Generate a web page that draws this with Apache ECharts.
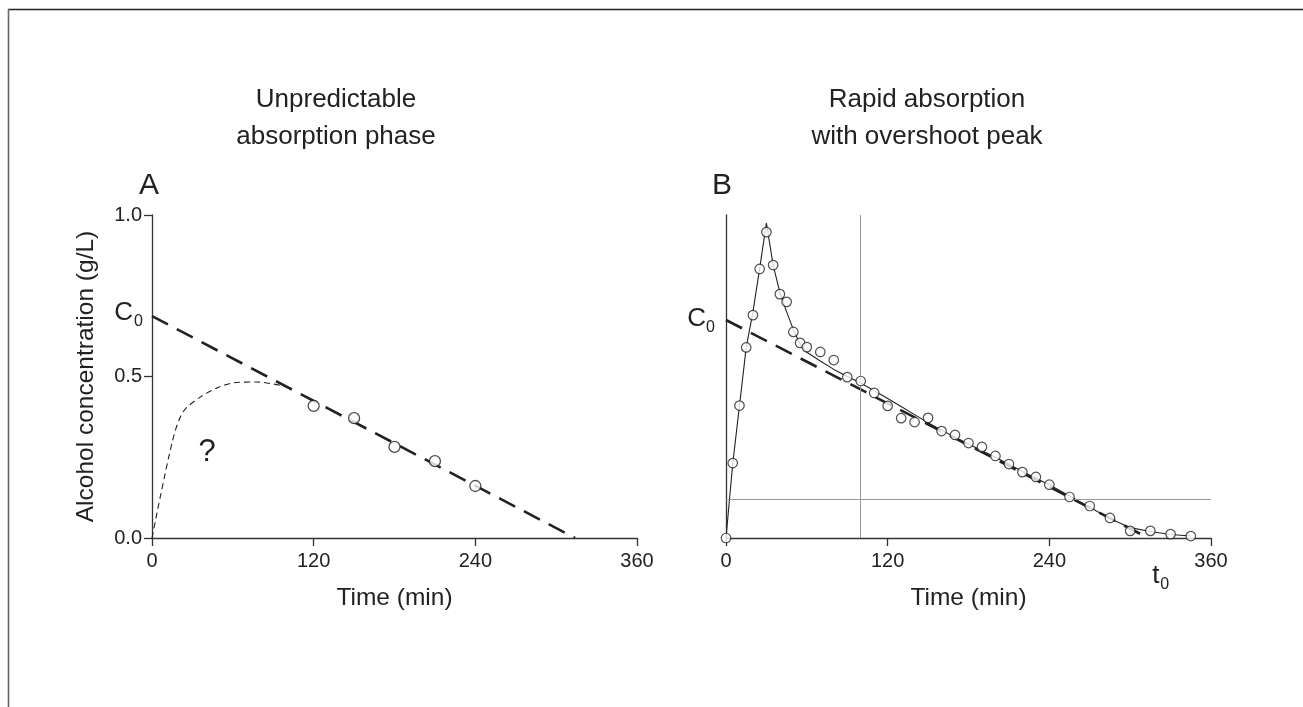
<!DOCTYPE html>
<html>
<head>
<meta charset="utf-8">
<script src="https://cdn.jsdelivr.net/npm/echarts@6/dist/echarts.min.js"></script>
<style>
html,body{margin:0;padding:0;background:#fff;}
#chart{width:1303px;height:707px;}
</style>
</head>
<body>
<div id="chart"></div>
<script>
// ---- data ----
const xTicks = [0, 120, 240, 360];
const yTicks = [0.0, 0.5, 1.0];

// Panel A
const aObsTime = [120, 150, 180, 210, 240];
const aObsConc = [0.409, 0.371, 0.282, 0.238, 0.161];
const aFitTime = [0, 314];
const aFitConc = [0.687, 0];
const aGuessTime = [0, 15, 23, 36, 48, 60, 78, 100];
const aGuessConc = [0, 0.297, 0.39, 0.437, 0.464, 0.48, 0.483, 0.468];

// Panel B
const bObsTime = [0,5,10,15,20,25,30,35,40,45,50,55,60,70,80,90,100,110,120,130,140,150,160,170,180,190,200,210,220,230,240,255,270,285,300,315,330,345];
const bObsConc = [0,0.232,0.41,0.59,0.69,0.833,0.947,0.845,0.755,0.731,0.638,0.604,0.591,0.576,0.551,0.498,0.486,0.449,0.409,0.371,0.359,0.372,0.331,0.319,0.294,0.282,0.254,0.229,0.204,0.189,0.165,0.127,0.099,0.062,0.022,0.022,0.012,0.006];
const bCurveTime = [0,5,10,15,20,25,30,35,40,45,50,55,60,70,80,90,100,110,120,130,140,150,160,170,180,190,200,210,220,230,240,255,270,285,300,315,330,345];
const bCurveConc = [0,0.23,0.41,0.59,0.70,0.835,0.975,0.845,0.76,0.70,0.645,0.60,0.575,0.548,0.522,0.50,0.48,0.456,0.432,0.407,0.382,0.357,0.334,0.312,0.291,0.27,0.25,0.228,0.206,0.185,0.165,0.13,0.095,0.06,0.032,0.02,0.011,0.006];
const bFitTime = [0, 313.5];
const bFitConc = [0.675, 0];
const bRefTime = 100;
const bRefConc = 0.118;

const zip = (xs, ys) => xs.map((x, i) => [x, ys[i]]);

const FONT = '"Liberation Sans", Arial, Helvetica, sans-serif';
const INK = '#222';
const AXIS = '#333';

function xAxisCfg(gridIndex) {
  return {
    type: 'value', gridIndex, min: 0, max: 360, interval: 120,
    name: 'Time (min)', nameLocation: 'middle', nameGap: 48,
    nameTextStyle: { fontFamily: FONT, fontSize: 24.5, color: INK },
    axisLine: { show: true, onZero: false, lineStyle: { color: AXIS, width: 1.3 } },
    axisTick: { show: true, length: 8, lineStyle: { color: AXIS, width: 1.3 } },
    axisLabel: { fontFamily: FONT, fontSize: 20, color: INK, margin: 13,
      formatter: v => xTicks.includes(v) ? String(v) : '' },
    splitLine: { show: false }
  };
}

const chart = echarts.init(document.getElementById('chart'), null, { renderer: 'canvas' });

const option = {
  animation: false,
  backgroundColor: '#fff',
  grid: [
    { left: 152, top: 215, width: 485, height: 323 },
    { left: 726, top: 215, width: 485, height: 323 }
  ],
  xAxis: [xAxisCfg(0), xAxisCfg(1)],
  yAxis: [
    {
      type: 'value', gridIndex: 0, min: 0, max: 1, interval: 0.5,
      name: 'Alcohol concentration (g/L)', nameLocation: 'middle', nameGap: 53,
      nameTextStyle: { fontFamily: FONT, fontSize: 24.5, color: INK },
      axisLine: { show: true, onZero: false, lineStyle: { color: AXIS, width: 1.3 } },
      axisTick: { show: true, length: 8, lineStyle: { color: AXIS, width: 1.3 } },
      axisLabel: { fontFamily: FONT, fontSize: 20, color: INK, margin: 10,
        formatter: v => yTicks.some(t => Math.abs(t - v) < 1e-9) ? v.toFixed(1) : '' },
      splitLine: { show: false }
    },
    {
      type: 'value', gridIndex: 1, min: 0, max: 1, interval: 0.5,
      axisLine: { show: true, onZero: false, lineStyle: { color: AXIS, width: 1.3 } },
      axisTick: { show: false }, axisLabel: { show: false },
      splitLine: { show: false }
    }
  ],
  series: [
    // Panel A
    { type: 'line', xAxisIndex: 0, yAxisIndex: 0, data: zip(aGuessTime, aGuessConc),
      smooth: 0.3, showSymbol: false, silent: true,
      lineStyle: { color: INK, width: 1.1, type: [6, 4] } },
    { type: 'line', xAxisIndex: 0, yAxisIndex: 0, data: zip(aFitTime, aFitConc),
      showSymbol: false, silent: true,
      lineStyle: { color: INK, width: 2.6, type: [18, 10] } },
    { type: 'scatter', xAxisIndex: 0, yAxisIndex: 0, data: zip(aObsTime, aObsConc),
      symbol: 'circle', symbolSize: 11, z: 5,
      itemStyle: { color: '#fff', borderColor: INK, borderWidth: 1.3 } },
    // Panel B
    { type: 'line', xAxisIndex: 1, yAxisIndex: 1, data: [], silent: true,
      markLine: { silent: true, symbol: 'none', label: { show: false },
        lineStyle: { color: '#999', width: 1, type: 'solid' },
        data: [{ xAxis: bRefTime }, { yAxis: bRefConc }] } },
    { type: 'line', xAxisIndex: 1, yAxisIndex: 1, data: zip(bFitTime, bFitConc),
      showSymbol: false, silent: true,
      lineStyle: { color: INK, width: 2.6, type: [18, 10] } },
    { type: 'line', xAxisIndex: 1, yAxisIndex: 1, data: zip(bCurveTime, bCurveConc),
      showSymbol: false, silent: true,
      lineStyle: { color: INK, width: 1.1 } },
    { type: 'scatter', xAxisIndex: 1, yAxisIndex: 1, data: zip(bObsTime, bObsConc),
      symbol: 'circle', symbolSize: 9.5, z: 5,
      itemStyle: { color: '#fff', borderColor: INK, borderWidth: 1.2 } }
  ]
};
chart.setOption(option);

// annotations anchored to data
const pA0 = chart.convertToPixel({ gridIndex: 0 }, [aFitTime[0], aFitConc[0]]);
const pB0 = chart.convertToPixel({ gridIndex: 1 }, [bFitTime[0], bFitConc[0]]);
const pT0 = chart.convertToPixel({ gridIndex: 1 }, [bFitTime[1], bFitConc[1]]);
const pQ = chart.convertToPixel({ gridIndex: 0 }, [41, 0.265]);

function txt(x, y, text, size, align) {
  return { type: 'text', x: x, y: y, style: { text: text, fontFamily: FONT, fontSize: size, fill: INK, align: align || 'center', verticalAlign: 'middle' } };
}

chart.setOption({
  graphic: [
    { type: 'line', shape: { x1: 8, y1: 9.5, x2: 1303, y2: 9.5 }, style: { stroke: '#222', lineWidth: 1.6 } },
    { type: 'line', shape: { x1: 8.5, y1: 9, x2: 8.5, y2: 707 }, style: { stroke: '#666', lineWidth: 1.6 } },
    txt(336, 100, 'Unpredictable', 26),
    txt(336, 137, 'absorption phase', 26),
    txt(149, 186, 'A', 30),
    txt(927, 100, 'Rapid absorption', 26),
    txt(927, 137, 'with overshoot peak', 26),
    txt(722, 186, 'B', 30),
    txt(pQ[0], pQ[1], '?', 31),
    // C0 (panel A)
    txt(pA0[0] - 19, pA0[1] - 3, 'C', 26, 'right'),
    txt(pA0[0] - 18, pA0[1] + 5, '0', 16, 'left'),
    // C0 (panel B)
    txt(pB0[0] - 20, pB0[1] - 1, 'C', 26, 'right'),
    txt(pB0[0] - 20, pB0[1] + 8, '0', 16, 'left'),
    // t0 at the intercept
    txt(pT0[0] + 4, pT0[1] + 38, 't', 26, 'left'),
    txt(pT0[0] + 12, pT0[1] + 47, '0', 16, 'left')
  ]
});
</script>
</body>
</html>
